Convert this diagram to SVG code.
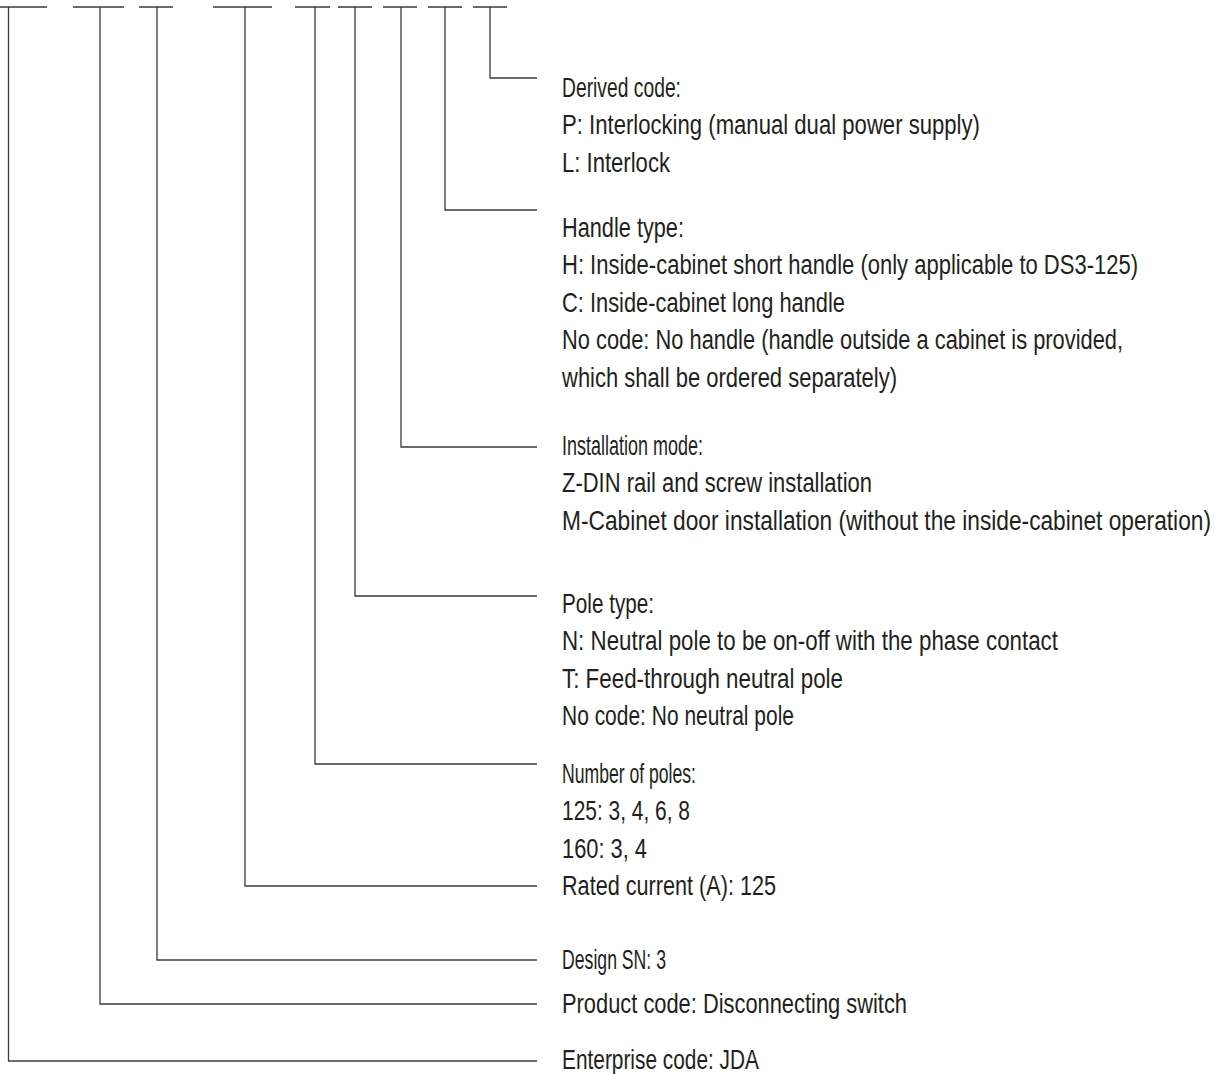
<svg xmlns="http://www.w3.org/2000/svg" width="1215" height="1074" viewBox="0 0 1215 1074">
<style>
.ln{fill:none;stroke:#3e3a39;stroke-width:1.3}
.t{font-family:"Liberation Sans",Arial,sans-serif;font-size:27.5px;fill:#231f20}
.t text{lengthAdjust:spacingAndGlyphs}
</style>
<rect width="1215" height="1074" fill="#fff"/>
<g id="connectors">
<path class="ln" d="M0 7H47M73 7H124M139 7H173M213 7H272M295 7H330M338 7H372M383 7H417M428 7H462M473 7H507"/>
<path class="ln" d="M8.5 7V1061H537"/>
<path class="ln" d="M100 7V1004H537"/>
<path class="ln" d="M157 7V960H537"/>
<path class="ln" d="M245 7V886H537"/>
<path class="ln" d="M315 7V764H537"/>
<path class="ln" d="M355 7V596H537"/>
<path class="ln" d="M401 7V447H537"/>
<path class="ln" d="M445 7V210H537"/>
<path class="ln" d="M490 7V78H537"/>
</g>
<g id="derived" class="t" transform="translate(562 0) scale(0.81 1)">
<text x="0" y="97" textLength="146.9" lengthAdjust="spacingAndGlyphs">Derived code:</text>
<text x="0" y="134.5" textLength="516" lengthAdjust="spacingAndGlyphs">P: Interlocking (manual dual power supply)</text>
<text x="0" y="172" textLength="133.3" lengthAdjust="spacingAndGlyphs">L: Interlock</text>
</g>
<g id="handle" class="t" transform="translate(562 0) scale(0.81 1)">
<text x="0" y="237" textLength="150.6" lengthAdjust="spacingAndGlyphs">Handle type:</text>
<text x="0" y="274.5" textLength="711.1" lengthAdjust="spacingAndGlyphs">H: Inside-cabinet short handle (only applicable to DS3-125)</text>
<text x="0" y="312" textLength="349.4" lengthAdjust="spacingAndGlyphs">C: Inside-cabinet long handle</text>
<text x="0" y="349.5" textLength="692.6" lengthAdjust="spacingAndGlyphs">No code: No handle (handle outside a cabinet is provided,</text>
<text x="0" y="387" textLength="413.6" lengthAdjust="spacingAndGlyphs">which shall be ordered separately)</text>
</g>
<g id="installation" class="t" transform="translate(562 0) scale(0.81 1)">
<text x="0" y="455" textLength="174.1" lengthAdjust="spacingAndGlyphs">Installation mode:</text>
<text x="0" y="492.5" textLength="382.7" lengthAdjust="spacingAndGlyphs">Z-DIN rail and screw installation</text>
<text x="0" y="530" textLength="801.2" lengthAdjust="spacingAndGlyphs">M-Cabinet door installation (without the inside-cabinet operation)</text>
</g>
<g id="pole" class="t" transform="translate(562 0) scale(0.81 1)">
<text x="0" y="613" textLength="113.6" lengthAdjust="spacingAndGlyphs">Pole type:</text>
<text x="0" y="650.5" textLength="612.3" lengthAdjust="spacingAndGlyphs">N: Neutral pole to be on-off with the phase contact</text>
<text x="0" y="688" textLength="346.9" lengthAdjust="spacingAndGlyphs">T: Feed-through neutral pole</text>
<text x="0" y="725.5" textLength="286.4" lengthAdjust="spacingAndGlyphs">No code: No neutral pole</text>
</g>
<g id="number" class="t" transform="translate(562 0) scale(0.81 1)">
<text x="0" y="783" textLength="165.4" lengthAdjust="spacingAndGlyphs">Number of poles:</text>
<text x="0" y="820.5" textLength="158" lengthAdjust="spacingAndGlyphs">125: 3, 4, 6, 8</text>
<text x="0" y="858" textLength="104.9" lengthAdjust="spacingAndGlyphs">160: 3, 4</text>
</g>
<g id="rated" class="t" transform="translate(562 0) scale(0.81 1)"><text x="0" y="895" textLength="264.2" lengthAdjust="spacingAndGlyphs">Rated current (A): 125</text></g>
<g id="design" class="t" transform="translate(562 0) scale(0.81 1)"><text x="0" y="969" textLength="128.4" lengthAdjust="spacingAndGlyphs">Design SN: 3</text></g>
<g id="product" class="t" transform="translate(562 0) scale(0.81 1)"><text x="0" y="1013" textLength="425.9" lengthAdjust="spacingAndGlyphs">Product code: Disconnecting switch</text></g>
<g id="enterprise" class="t" transform="translate(562 0) scale(0.81 1)"><text x="0" y="1069" textLength="243.2" lengthAdjust="spacingAndGlyphs">Enterprise code: JDA</text></g>
</svg>
